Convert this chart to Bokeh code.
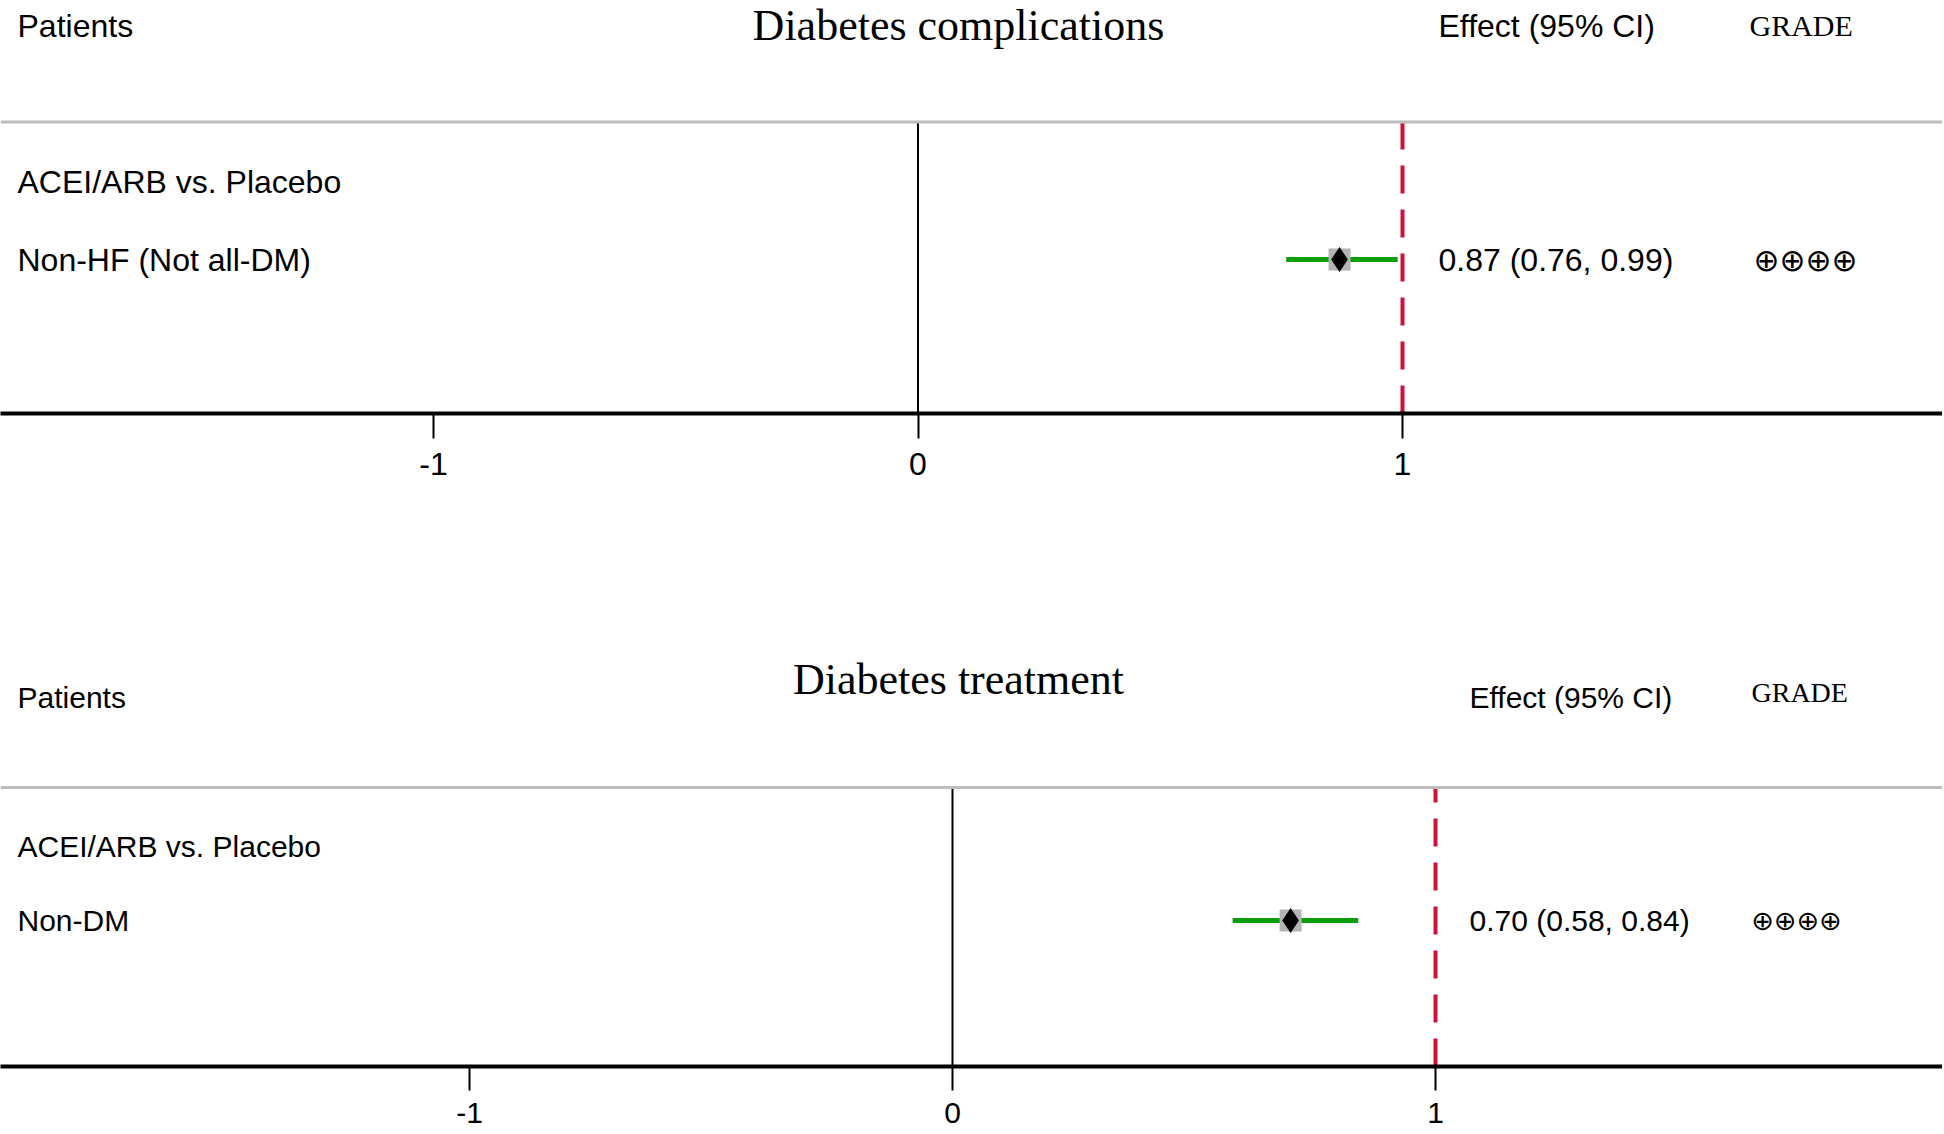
from bokeh.plotting import figure
from bokeh.layouts import column
from bokeh.models import Range1d, FixedTicker, Span
from bokeh.core.properties import value
from bokeh.embed import file_html
from bokeh.resources import INLINE

# ---------------- data ----------------
panel_titles = ["Diabetes complications", "Diabetes treatment"]
comparisons = ["ACEI/ARB vs. Placebo", "ACEI/ARB vs. Placebo"]
populations = ["Non-HF (Not all-DM)", "Non-DM"]
effects = [0.87, 0.70]
lower = [0.76, 0.58]
upper = [0.99, 0.84]
grades = ["⊕⊕⊕⊕", "⊕⊕⊕⊕"]
x_ticks = [-1, 0, 1]
x_tick_labels = ["-1", "0", "1"]
null_effect = 1
header_patients = "Patients"
header_effect = "Effect (95% CI)"
header_grade = "GRADE"

# ---------------- layout (page pixels) ----------------
PAGE_L, PAGE_R = 0, 1942
panels = [
    dict(top=0, height=548, axis_y=413, zero_x=917.5, unit=484.5,
         title_y=0, head_y=25, grade_head_y=25, sep_y=121.5, comp_y=181, pop_y=259,
         fs=32, title_fs=44, grade_fs=30, sym_fs=31,
         effect_x=1438, grade_x=1749, sym_x=1753, tick_out=25, standoff=14, tick_fs=32),
    dict(top=548, height=586, axis_y=1066, zero_x=952, unit=483,
         title_y=654, head_y=697, grade_head_y=692, sep_y=787, comp_y=846, pop_y=920,
         fs=30, title_fs=44, grade_fs=28, sym_fs=27,
         effect_x=1469, grade_x=1751, sym_x=1751, tick_out=24, standoff=12, tick_fs=30),
]

SANS = value("Liberation Sans")
SERIF = value("Liberation Serif")

figs = []
for i, cfg in enumerate(panels):
    frame_h = cfg["axis_y"] - cfg["top"]
    x0 = (PAGE_L - cfg["zero_x"]) / cfg["unit"]
    x1 = (PAGE_R - cfg["zero_x"]) / cfg["unit"]

    def X(px, cfg=cfg):
        return (px - cfg["zero_x"]) / cfg["unit"]

    def Y(py, cfg=cfg):
        return cfg["axis_y"] - py

    p = figure(width=PAGE_R - PAGE_L, height=cfg["height"],
               x_range=Range1d(x0, x1), y_range=Range1d(0, frame_h),
               output_backend="svg", toolbar_location=None,
               y_axis_location=None, min_border_left=0, min_border_right=0,
               min_border_top=0, min_border_bottom=cfg["height"] - frame_h)
    p.outline_line_color = None
    p.xgrid.visible = False
    p.ygrid.visible = False
    p.background_fill_color = "white"
    p.border_fill_color = "white"

    ax = p.xaxis[0]
    ax.ticker = FixedTicker(ticks=x_ticks)
    ax.major_label_overrides = {t: l for t, l in zip(x_ticks, x_tick_labels)}
    ax.axis_line_width = 4
    ax.axis_line_color = "black"
    ax.major_tick_line_width = 2
    ax.major_tick_line_color = "black"
    ax.major_tick_in = 0
    ax.major_tick_out = cfg["tick_out"]
    ax.minor_tick_line_color = None
    ax.major_label_standoff = cfg["standoff"]
    ax.major_label_text_font = "Liberation Sans"
    ax.major_label_text_font_size = f"{cfg['tick_fs']}px"
    ax.major_label_text_color = "black"

    sep = Y(cfg["sep_y"])
    # separator line
    p.add_layout(Span(location=sep, dimension="width", line_color="#bdbdbd", line_width=3))
    # zero line
    p.segment(x0=[0], y0=[0], x1=[0], y1=[sep], line_color="black", line_width=2)
    # null-effect dashed line (drawn from the axis upwards)
    p.segment(x0=[null_effect], y0=[0], x1=[null_effect], y1=[sep],
              line_color="#cc1236", line_width=4, line_dash="28 16")

    # headers
    p.text(x=[X(17)], y=[Y(cfg["head_y"])], text=[header_patients], text_font=SANS,
           text_font_size=f"{cfg['fs']}px", text_baseline="middle", text_align="left", text_color="black")
    p.text(x=[X(958)], y=[Y(cfg["title_y"])], text=[panel_titles[i]], text_font=SERIF,
           text_font_size=f"{cfg['title_fs']}px", text_baseline="top", text_align="center", text_color="black")
    p.text(x=[X(cfg["effect_x"])], y=[Y(cfg["head_y"])], text=[header_effect], text_font=SANS,
           text_font_size=f"{cfg['fs']}px", text_baseline="middle", text_align="left", text_color="black")
    p.text(x=[X(cfg["grade_x"])], y=[Y(cfg["grade_head_y"])], text=[header_grade], text_font=SERIF,
           text_font_size=f"{cfg['grade_fs']}px", text_baseline="middle", text_align="left", text_color="black")

    # rows
    p.text(x=[X(17)], y=[Y(cfg["comp_y"])], text=[comparisons[i]], text_font=SANS,
           text_font_size=f"{cfg['fs']}px", text_baseline="middle", text_align="left", text_color="black")
    yr = Y(cfg["pop_y"])
    p.text(x=[X(17)], y=[yr], text=[populations[i]], text_font=SANS,
           text_font_size=f"{cfg['fs']}px", text_baseline="middle", text_align="left", text_color="black")

    # CI + point
    p.segment(x0=[lower[i]], y0=[yr], x1=[upper[i]], y1=[yr], line_color="#0a9e0a", line_width=5)
    p.scatter(x=[effects[i]], y=[yr], marker="square", size=22, fill_color="#b4b4b4", line_color=None)
    p.scatter(x=[effects[i]], y=[yr], marker="diamond", size=25, fill_color="black", line_color=None)

    effect_text = f"{effects[i]:.2f} ({lower[i]:.2f}, {upper[i]:.2f})"
    p.text(x=[X(cfg["effect_x"])], y=[yr], text=[effect_text], text_font=SANS,
           text_font_size=f"{cfg['fs']}px", text_baseline="middle", text_align="left", text_color="black")
    p.text(x=[X(cfg["sym_x"])], y=[yr], text=[grades[i]], text_font=value("DejaVu Sans"),
           text_font_size=f"{cfg['sym_fs']}px", text_baseline="middle", text_align="left", text_color="black")

    figs.append(p)

layout = column(*figs, spacing=0)
open("out.html", "w").write(file_html(layout, INLINE))
